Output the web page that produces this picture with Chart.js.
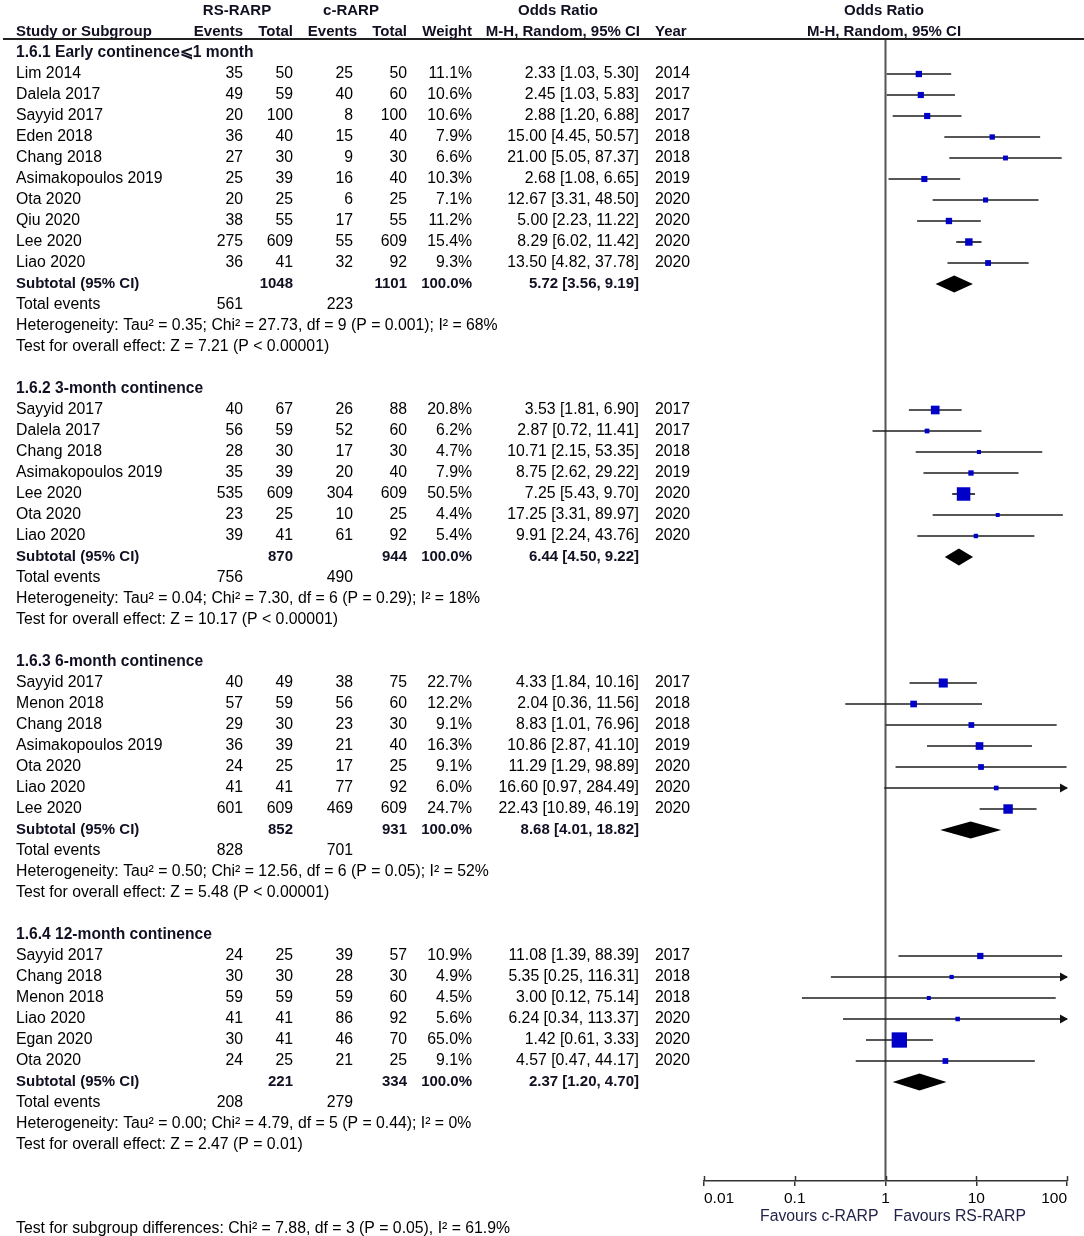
<!DOCTYPE html>
<html>
<head>
<meta charset="utf-8">
<script src="https://cdn.jsdelivr.net/npm/chart.js@4"></script>
<style>
  html, body { margin: 0; padding: 0; background: #fff; }
  #wrap { width: 1084px; height: 1236px; position: relative; }
</style>
</head>
<body>
<div id="wrap"><canvas id="forest"></canvas></div>
<script>
// studies, flat across the four subgroups
const studyNames = [
    'Lim 2014', 'Dalela 2017', 'Sayyid 2017', 'Eden 2018', 'Chang 2018', 'Asimakopoulos 2019', 'Ota 2020', 'Qiu 2020', 'Lee 2020', 'Liao 2020',
    'Sayyid 2017', 'Dalela 2017', 'Chang 2018', 'Asimakopoulos 2019', 'Lee 2020', 'Ota 2020', 'Liao 2020',
    'Sayyid 2017', 'Menon 2018', 'Chang 2018', 'Asimakopoulos 2019', 'Ota 2020', 'Liao 2020', 'Lee 2020',
    'Sayyid 2017', 'Chang 2018', 'Menon 2018', 'Liao 2020', 'Egan 2020', 'Ota 2020'
];
const studyGroup = [0,0,0,0,0,0,0,0,0,0, 1,1,1,1,1,1,1, 2,2,2,2,2,2,2, 3,3,3,3,3,3];
const rsEvents = [35, 49, 20, 36, 27, 25, 20, 38, 275, 36,  40, 56, 28, 35, 535, 23, 39,  40, 57, 29, 36, 24, 41, 601,  24, 30, 59, 41, 30, 24];
const rsTotal  = [50, 59, 100, 40, 30, 39, 25, 55, 609, 41,  67, 59, 30, 39, 609, 25, 41,  49, 59, 30, 39, 25, 41, 609,  25, 30, 59, 41, 41, 25];
const cEvents  = [25, 40, 8, 15, 9, 16, 6, 17, 55, 32,  26, 52, 17, 20, 304, 10, 61,  38, 56, 23, 21, 17, 77, 469,  39, 28, 59, 86, 46, 21];
const cTotal   = [50, 60, 100, 40, 30, 40, 25, 55, 609, 92,  88, 60, 30, 40, 609, 25, 92,  75, 60, 30, 40, 25, 92, 609,  57, 30, 60, 92, 70, 25];
const weights  = [11.1, 10.6, 10.6, 7.9, 6.6, 10.3, 7.1, 11.2, 15.4, 9.3,  20.8, 6.2, 4.7, 7.9, 50.5, 4.4, 5.4,  22.7, 12.2, 9.1, 16.3, 9.1, 6.0, 24.7,  10.9, 4.9, 4.5, 5.6, 65.0, 9.1];
const oddsRatio = [2.33, 2.45, 2.88, 15.00, 21.00, 2.68, 12.67, 5.00, 8.29, 13.50,  3.53, 2.87, 10.71, 8.75, 7.25, 17.25, 9.91,  4.33, 2.04, 8.83, 10.86, 11.29, 16.60, 22.43,  11.08, 5.35, 3.00, 6.24, 1.42, 4.57];
const ciLow  = [1.03, 1.03, 1.20, 4.45, 5.05, 1.08, 3.31, 2.23, 6.02, 4.82,  1.81, 0.72, 2.15, 2.62, 5.43, 3.31, 2.24,  1.84, 0.36, 1.01, 2.87, 1.29, 0.97, 10.89,  1.39, 0.25, 0.12, 0.34, 0.61, 0.47];
const ciHigh = [5.30, 5.83, 6.88, 50.57, 87.37, 6.65, 48.50, 11.22, 11.42, 37.78,  6.90, 11.41, 53.35, 29.22, 9.70, 89.97, 43.76,  10.16, 11.56, 76.96, 41.10, 98.89, 284.49, 46.19,  88.39, 116.31, 75.14, 113.37, 3.33, 44.17];
const years = [2014, 2017, 2017, 2018, 2018, 2019, 2020, 2020, 2020, 2020,  2017, 2017, 2018, 2019, 2020, 2020, 2020,  2017, 2018, 2018, 2019, 2020, 2020, 2020,  2017, 2018, 2018, 2020, 2020, 2020];

// subgroups
const groupTitles = ['1.6.1 Early continence\u2A7D1 month', '1.6.2 3-month continence', '1.6.3 6-month continence', '1.6.4 12-month continence'];
const subRsTotal = [1048, 870, 852, 221];
const subCTotal = [1101, 944, 931, 334];
const subOR = [5.72, 6.44, 8.68, 2.37];
const subLow = [3.56, 4.50, 4.01, 1.20];
const subHigh = [9.19, 9.22, 18.82, 4.70];
const totalRsEvents = [561, 756, 828, 208];
const totalCEvents = [223, 490, 701, 279];
const heterogeneity = [
    'Heterogeneity: Tau\u00B2 = 0.35; Chi\u00B2 = 27.73, df = 9 (P = 0.001); I\u00B2 = 68%',
    'Heterogeneity: Tau\u00B2 = 0.04; Chi\u00B2 = 7.30, df = 6 (P = 0.29); I\u00B2 = 18%',
    'Heterogeneity: Tau\u00B2 = 0.50; Chi\u00B2 = 12.56, df = 6 (P = 0.05); I\u00B2 = 52%',
    'Heterogeneity: Tau\u00B2 = 0.00; Chi\u00B2 = 4.79, df = 5 (P = 0.44); I\u00B2 = 0%'
];
const overallEffect = [
    'Test for overall effect: Z = 7.21 (P < 0.00001)',
    'Test for overall effect: Z = 10.17 (P < 0.00001)',
    'Test for overall effect: Z = 5.48 (P < 0.00001)',
    'Test for overall effect: Z = 2.47 (P = 0.01)'
];
const subgroupDifferences = 'Test for subgroup differences: Chi\u00B2 = 7.88, df = 3 (P = 0.05), I\u00B2 = 61.9%';

// axis
const tickValues = [0.01, 0.1, 1, 10, 100];
const tickLabels = ['0.01', '0.1', '1', '10', '100'];
const favourLeft = 'Favours c-RARP';
const favourRight = 'Favours RS-RARP';

const FONT = "'Liberation Sans', Arial, sans-serif";
const BOLD_COLOR = '#101022';

// work out which row every line of the table sits on
const studyRow = [], headerRow = [], subtotalRow = [], totalRow = [], hetRow = [], testRow = [];
let row = 0;
groupTitles.forEach((title, g) => {
    headerRow[g] = row++;
    studyNames.forEach((name, i) => {
        if (studyGroup[i] === g) studyRow[i] = row++;
    });
    subtotalRow[g] = row++;
    totalRow[g] = row++;
    hetRow[g] = row++;
    testRow[g] = row++;
    row++;
});
const differencesRow = row + 2;

const ciDatasets = studyNames.map((name, i) => ({
    label: name,
    data: [{ x: ciLow[i], y: studyRow[i] }, { x: ciHigh[i], y: studyRow[i] }],
    showLine: true,
    borderColor: '#1e1e1e',
    borderWidth: 1.7,
    pointRadius: 0,
    order: 1
}));

const squareDataset = {
    label: 'Odds ratio',
    data: studyNames.map((name, i) => ({ x: oddsRatio[i], y: studyRow[i] })),
    pointStyle: 'rect',
    pointRadius: weights.map(w => Math.max(3.5, 1.9 * Math.sqrt(w)) / Math.SQRT2),
    backgroundColor: '#0000c8',
    borderWidth: 0,
    order: 0
};

const forestPlugin = {
    id: 'forest',
    beforeDatasetsDraw(chart) {
        const { ctx, chartArea, scales } = chart;
        const x1 = scales.x.getPixelForValue(1);
        ctx.save();
        ctx.strokeStyle = '#555';
        ctx.lineWidth = 2;
        ctx.beginPath();
        ctx.moveTo(x1, chartArea.top);
        ctx.lineTo(x1, chartArea.bottom);
        ctx.stroke();
        ctx.restore();
    },
    afterDatasetsDraw(chart) {
        const { ctx, chartArea, scales } = chart;
        const xs = scales.x, ys = scales.y;
        ctx.save();
        // pooled diamonds
        ctx.fillStyle = '#000';
        subOR.forEach((or, g) => {
            const yc = ys.getPixelForValue(subtotalRow[g]);
            ctx.beginPath();
            ctx.moveTo(xs.getPixelForValue(subLow[g]), yc);
            ctx.lineTo(xs.getPixelForValue(or), yc - 8.5);
            ctx.lineTo(xs.getPixelForValue(subHigh[g]), yc);
            ctx.lineTo(xs.getPixelForValue(or), yc + 8.5);
            ctx.closePath();
            ctx.fill();
        });
        // arrows where the interval runs past the axis
        ctx.fillStyle = '#111';
        ciHigh.forEach((hi, i) => {
            if (hi <= xs.max) return;
            const yc = ys.getPixelForValue(studyRow[i]);
            const tip = chartArea.right + 1;
            ctx.beginPath();
            ctx.moveTo(tip, yc);
            ctx.lineTo(tip - 8, yc - 4.5);
            ctx.lineTo(tip - 8, yc + 4.5);
            ctx.closePath();
            ctx.fill();
        });
        // small tick stubs above the axis line
        ctx.strokeStyle = '#333';
        ctx.lineWidth = 1.5;
        tickValues.forEach(v => {
            const px = Math.round(xs.getPixelForValue(v)) + 0.5;
            ctx.beginPath();
            ctx.moveTo(px, chartArea.bottom - 5);
            ctx.lineTo(px, chartArea.bottom);
            ctx.stroke();
        });
        ctx.restore();
    },
    afterDraw(chart) {
        const { ctx, chartArea, scales } = chart;
        const ys = scales.y, xs = scales.x;
        const rowY = r => ys.getPixelForValue(r);

        function put(str, x, y, align, bold, color, size) {
            ctx.font = (bold ? 'bold ' : '') + (size || (bold ? 15 : 15.8)) + 'px ' + FONT;
            ctx.fillStyle = color || (bold ? BOLD_COLOR : '#000');
            ctx.textAlign = align;
            ctx.textBaseline = 'middle';
            ctx.fillText(str, x, y);
        }

        ctx.save();
        // column headings
        const h1 = rowY(-2), h2 = rowY(-1);
        put('RS-RARP', 237, h1, 'center', true);
        put('c-RARP', 351, h1, 'center', true);
        put('Odds Ratio', 558, h1, 'center', true);
        put('Odds Ratio', 884, h1, 'center', true);
        put('Study or Subgroup', 16, h2, 'left', true);
        put('Events', 243, h2, 'right', true);
        put('Total', 293, h2, 'right', true);
        put('Events', 357, h2, 'right', true);
        put('Total', 407, h2, 'right', true);
        put('Weight', 472, h2, 'right', true);
        put('M-H, Random, 95% CI', 640, h2, 'right', true);
        put('Year', 655, h2, 'left', true);
        put('M-H, Random, 95% CI', 884, h2, 'center', true);

        ctx.strokeStyle = '#222';
        ctx.lineWidth = 2;
        ctx.beginPath();
        ctx.moveTo(3, chartArea.top);
        ctx.lineTo(chart.width, chartArea.top);
        ctx.stroke();

        // study rows
        studyNames.forEach((name, i) => {
            const y = rowY(studyRow[i]);
            put(name, 16, y, 'left');
            put(String(rsEvents[i]), 243, y, 'right');
            put(String(rsTotal[i]), 293, y, 'right');
            put(String(cEvents[i]), 353, y, 'right');
            put(String(cTotal[i]), 407, y, 'right');
            put(weights[i].toFixed(1) + '%', 472, y, 'right');
            put(oddsRatio[i].toFixed(2) + ' [' + ciLow[i].toFixed(2) + ', ' + ciHigh[i].toFixed(2) + ']', 639, y, 'right');
            put(String(years[i]), 655, y, 'left');
        });

        // subgroup rows
        groupTitles.forEach((title, g) => {
            put(title, 16, rowY(headerRow[g]), 'left', true, null, 15.6);
            const ys2 = rowY(subtotalRow[g]);
            put('Subtotal (95% CI)', 16, ys2, 'left', true);
            put(String(subRsTotal[g]), 293, ys2, 'right', true);
            put(String(subCTotal[g]), 407, ys2, 'right', true);
            put('100.0%', 472, ys2, 'right', true);
            put(subOR[g].toFixed(2) + ' [' + subLow[g].toFixed(2) + ', ' + subHigh[g].toFixed(2) + ']', 639, ys2, 'right', true);
            const yt = rowY(totalRow[g]);
            put('Total events', 16, yt, 'left');
            put(String(totalRsEvents[g]), 243, yt, 'right');
            put(String(totalCEvents[g]), 353, yt, 'right');
            put(heterogeneity[g], 16, rowY(hetRow[g]), 'left');
            put(overallEffect[g], 16, rowY(testRow[g]), 'left');
        });
        put(subgroupDifferences, 16, rowY(differencesRow), 'left');

        // favours labels under the axis
        const x1 = xs.getPixelForValue(1);
        const yf = chartArea.bottom + 36;
        put(favourLeft, x1 - 7, yf, 'right', false, '#23234a');
        put(favourRight, x1 + 8, yf, 'left', false, '#23234a');
        ctx.restore();
    }
};

new Chart(document.getElementById('forest'), {
    type: 'scatter',
    data: { datasets: [squareDataset, ...ciDatasets] },
    options: {
        responsive: true,
        maintainAspectRatio: false,
        animation: false,
        layout: { padding: { left: 704, right: 17, top: 39, bottom: 0 } },
        plugins: { legend: { display: false }, tooltip: { enabled: false } },
        scales: {
            x: {
                type: 'logarithmic',
                min: 0.01,
                max: 100,
                afterBuildTicks: s => { s.ticks = tickValues.map(v => ({ value: v })); },
                afterFit: s => { s.height = 55; },
                ticks: {
                    autoSkip: false,
                    maxRotation: 0,
                    align: 'inner',
                    padding: 3,
                    color: '#000',
                    font: { family: FONT, size: 15.5 },
                    callback: (v, i) => tickLabels[i]
                },
                grid: { drawOnChartArea: false, drawTicks: true, tickLength: 5, color: '#333', lineWidth: 1.5 },
                border: { display: true, color: '#333', width: 1.5 }
            },
            y: {
                type: 'linear',
                reverse: true,
                min: -14 / 21,
                max: (1181 - 53) / 21,
                display: false
            }
        }
    },
    plugins: [forestPlugin]
});
</script>
</body>
</html>
